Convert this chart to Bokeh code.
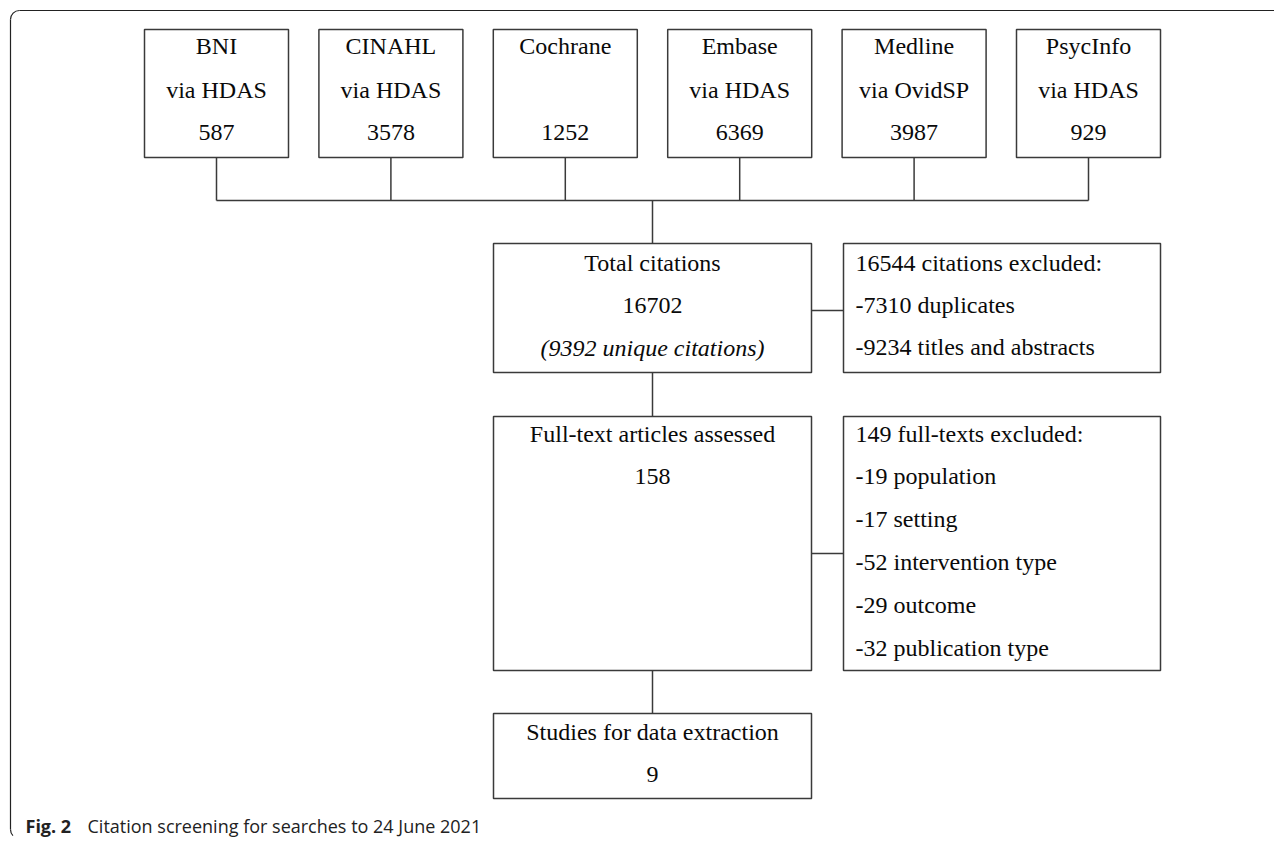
from bokeh.plotting import figure
from bokeh.models import Range1d, ColumnDataSource
from bokeh.core.properties import value
from bokeh.embed import file_html
from bokeh.resources import INLINE

# ---- data ----
databases = ["BNI", "CINAHL", "Cochrane", "Embase", "Medline", "PsycInfo"]
via = ["via HDAS", "via HDAS", "", "via HDAS", "via OvidSP", "via HDAS"]
db_counts = [587, 3578, 1252, 6369, 3987, 929]
total_citations = 16702
unique_citations = 9392
excluded_screen = 16544
excluded_screen_reasons = ["duplicates", "titles and abstracts"]
excluded_screen_counts = [7310, 9234]
fulltext_assessed = 158
excluded_fulltext = 149
fulltext_reasons = ["population", "setting", "intervention type", "outcome", "publication type"]
fulltext_counts = [19, 17, 52, 29, 32]
included = 9
caption_bold = "Fig. 2"
caption_text = "Citation screening for searches to 24 June 2021"

# ---- layout (picture pixel coordinates) ----
W, H = 1274, 840
p = figure(width=W, height=H, output_backend="svg", toolbar_location=None,
           x_range=Range1d(0, W), y_range=Range1d(H, 0),
           min_border=0, outline_line_color=None)
p.axis.visible = False
p.grid.visible = False
p.background_fill_color = "white"

LC = "#3a3a3a"
LW = 1.5
SERIF = value("Liberation Serif")
FS = "24px"
TC = "#0a0a0a"

# outer frame (top and left with rounded corners)
r = 9
FC = "#222222"
p.line([W, 10 + r], [10, 10], line_color=FC, line_width=1.2)
p.arc(x=[10 + r], y=[10 + r], radius=r, start_angle=1.5708, end_angle=3.1416,
      direction="anticlock", line_color=FC, line_width=1.2)
p.line([10, 10], [10 + r, 829], line_color=FC, line_width=1.2)
p.arc(x=[10 + r], y=[829], radius=r, start_angle=3.1416, end_angle=3.9,
      direction="anticlock", line_color=FC, line_width=1.2)

# top boxes
n = len(databases)
lefts = [144 + i * 174.4 for i in range(n)]
rights = [l + 144 for l in lefts]
centers = [(l + rr) / 2 for l, rr in zip(lefts, rights)]
top_box_top, top_box_bot = 29, 157
p.quad(left=lefts, right=rights, top=[top_box_top] * n, bottom=[top_box_bot] * n,
       fill_color="white", line_color=LC, line_width=LW)

# connectors from top boxes
bus_y = 200
p.segment(x0=centers, y0=[top_box_bot] * n, x1=centers, y1=[bus_y] * n,
          line_color=LC, line_width=LW)
p.segment(x0=[centers[0]], y0=[bus_y], x1=[centers[-1]], y1=[bus_y],
          line_color=LC, line_width=LW)

cx = 652
mid_l, mid_r = 493, 811
side_l, side_r = 843, 1160

# main boxes
main_tops = [243, 416, 713]
main_bots = [372, 670, 798]
p.quad(left=[mid_l] * 3, right=[mid_r] * 3, top=main_tops, bottom=main_bots,
       fill_color="white", line_color=LC, line_width=LW)
side_tops = [243, 416]
side_bots = [372, 670]
p.quad(left=[side_l] * 2, right=[side_r] * 2, top=side_tops, bottom=side_bots,
       fill_color="white", line_color=LC, line_width=LW)

# vertical connectors
p.segment(x0=[cx, cx, cx], y0=[bus_y, main_bots[0], main_bots[1]],
          x1=[cx, cx, cx], y1=[main_tops[0], main_tops[1], main_tops[2]],
          line_color=LC, line_width=LW)
# horizontal connectors to side boxes
p.segment(x0=[mid_r, mid_r], y0=[310, 553], x1=[side_l, side_l], y1=[310, 553],
          line_color=LC, line_width=LW)

# ---- texts ----
tx, ty, tt = [], [], []
line_y = [45, 89, 132]
for c, name, v, cnt in zip(centers, databases, via, db_counts):
    tx.append(c); ty.append(line_y[0]); tt.append(name)
    if v:
        tx.append(c); ty.append(line_y[1]); tt.append(v)
    tx.append(c); ty.append(line_y[2]); tt.append(str(cnt))

tx += [cx, cx]
ty += [262, 305]
tt += ["Total citations", str(total_citations)]
tx += [cx, cx]
ty += [433, 476]
tt += ["Full-text articles assessed", str(fulltext_assessed)]
tx += [cx, cx]
ty += [731, 774]
tt += ["Studies for data extraction", str(included)]

src_c = ColumnDataSource(dict(x=tx, y=ty, text=tt))
p.text(x="x", y="y", text="text", source=src_c, text_align="center",
       text_baseline="middle", text_font=SERIF, text_font_size=FS, text_color=TC)

p.text(x=[cx], y=[347], text=["(%d unique citations)" % unique_citations],
       text_align="center", text_baseline="middle", text_font=SERIF,
       text_font_size=FS, text_font_style="italic", text_color=TC)

lt = []
lt.append("%d citations excluded:" % excluded_screen)
for rsn, c in zip(excluded_screen_reasons, excluded_screen_counts):
    lt.append("-%d %s" % (c, rsn))
ly = [262, 304, 346]
lt.append("%d full-texts excluded:" % excluded_fulltext)
for rsn, c in zip(fulltext_reasons, fulltext_counts):
    lt.append("-%d %s" % (c, rsn))
ly += [433 + 42.8 * i for i in range(6)]
lx = [855] * len(lt)
src_l = ColumnDataSource(dict(x=lx, y=ly, text=lt))
p.text(x="x", y="y", text="text", source=src_l, text_align="left",
       text_baseline="middle", text_font=SERIF, text_font_size=FS, text_color=TC)

# caption
p.text(x=[25], y=[825], text=[caption_bold], text_align="left", text_baseline="middle",
       text_font=value("Open Sans"), text_font_size="18px", text_font_style="bold",
       text_color="#222222")
p.text(x=[87], y=[825], text=[caption_text], text_align="left", text_baseline="middle",
       text_font=value("Open Sans"), text_font_size="18px", text_color="#222222")

open("out.html", "w").write(file_html(p, INLINE))
